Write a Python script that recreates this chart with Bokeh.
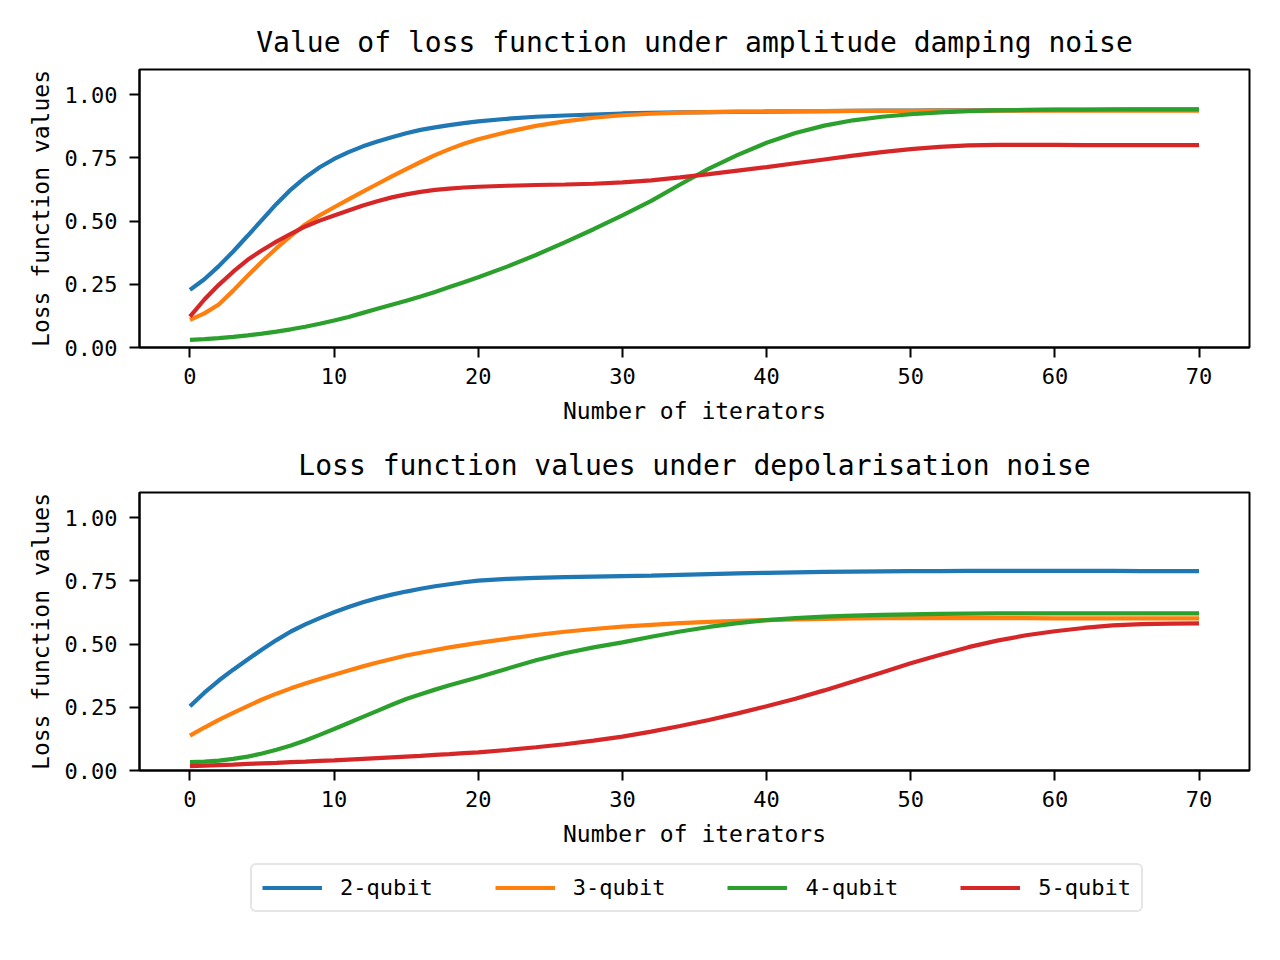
from bokeh.plotting import figure
from bokeh.layouts import column
from bokeh.models import FixedTicker, PrintfTickFormatter, Legend, LegendItem, Range1d
from bokeh.embed import file_html
from bokeh.resources import INLINE

# ---------------- data ----------------
iterations = [0, 1, 2, 3, 4, 5, 6, 7, 8, 9, 10, 11, 12, 13, 14, 15, 16, 17, 18, 19, 20,
              22, 24, 26, 28, 30, 32, 34, 36, 38, 40, 42, 44, 46, 48, 50, 52, 54, 56,
              58, 60, 62, 64, 66, 68, 70]

series_labels = ["2-qubit", "3-qubit", "4-qubit", "5-qubit"]
series_colors = ["#1f77b4", "#ff7f0e", "#2ca02c", "#d62728"]

# amplitude damping noise
amp_2q = [0.228, 0.270, 0.322, 0.380, 0.442, 0.505, 0.568, 0.625, 0.673, 0.713, 0.746,
          0.773, 0.796, 0.815, 0.832, 0.848, 0.861, 0.871, 0.880, 0.888, 0.895,
          0.905, 0.913, 0.918, 0.922, 0.926, 0.928, 0.930, 0.931, 0.932, 0.933, 0.934,
          0.935, 0.936, 0.937, 0.937, 0.938, 0.938, 0.939, 0.939, 0.940, 0.940, 0.940,
          0.941, 0.941, 0.941]
amp_3q = [0.109, 0.135, 0.170, 0.225, 0.284, 0.340, 0.393, 0.442, 0.487, 0.523, 0.555,
          0.586, 0.617, 0.647, 0.677, 0.706, 0.734, 0.761, 0.785, 0.806, 0.824,
          0.853, 0.877, 0.895, 0.909, 0.919, 0.925, 0.929, 0.931, 0.933, 0.934, 0.935,
          0.935, 0.936, 0.936, 0.936, 0.937, 0.937, 0.937, 0.937, 0.937, 0.937, 0.937,
          0.937, 0.937, 0.937]
amp_4q = [0.030, 0.033, 0.037, 0.042, 0.048, 0.055, 0.063, 0.072, 0.082, 0.094, 0.107,
          0.121, 0.137, 0.153, 0.169, 0.185, 0.202, 0.220, 0.239, 0.258, 0.278,
          0.320, 0.366, 0.416, 0.468, 0.523, 0.580, 0.645, 0.708, 0.762, 0.810, 0.849,
          0.878, 0.899, 0.913, 0.923, 0.930, 0.935, 0.938, 0.940, 0.941, 0.941, 0.942,
          0.942, 0.942, 0.942]
amp_5q = [0.122, 0.190, 0.248, 0.300, 0.347, 0.385, 0.419, 0.450, 0.479, 0.502, 0.522,
          0.542, 0.562, 0.579, 0.594, 0.606, 0.616, 0.624, 0.629, 0.633, 0.636,
          0.640, 0.643, 0.645, 0.648, 0.653, 0.661, 0.673, 0.686, 0.700, 0.714, 0.729,
          0.744, 0.759, 0.773, 0.785, 0.794, 0.800, 0.802, 0.802, 0.802, 0.801, 0.801,
          0.801, 0.801, 0.801]

# depolarisation noise
dep_2q = [0.254, 0.308, 0.356, 0.399, 0.439, 0.479, 0.516, 0.550, 0.578, 0.603, 0.626,
          0.647, 0.666, 0.682, 0.696, 0.708, 0.719, 0.729, 0.737, 0.745, 0.751,
          0.758, 0.762, 0.765, 0.767, 0.769, 0.771, 0.774, 0.777, 0.780, 0.782, 0.784,
          0.786, 0.787, 0.788, 0.789, 0.789, 0.790, 0.790, 0.790, 0.790, 0.790, 0.790,
          0.789, 0.789, 0.789]
dep_3q = [0.138, 0.170, 0.200, 0.228, 0.255, 0.281, 0.304, 0.325, 0.344, 0.362, 0.379,
          0.396, 0.412, 0.427, 0.441, 0.455, 0.466, 0.477, 0.487, 0.496, 0.505,
          0.521, 0.536, 0.549, 0.560, 0.569, 0.576, 0.583, 0.588, 0.592, 0.595, 0.598,
          0.600, 0.602, 0.603, 0.603, 0.603, 0.603, 0.603, 0.603, 0.602, 0.602, 0.602,
          0.602, 0.602, 0.602]
dep_4q = [0.033, 0.035, 0.039, 0.046, 0.055, 0.067, 0.082, 0.099, 0.119, 0.141, 0.164,
          0.188, 0.212, 0.236, 0.260, 0.283, 0.302, 0.320, 0.337, 0.353, 0.369,
          0.403, 0.436, 0.464, 0.487, 0.507, 0.529, 0.550, 0.568, 0.583, 0.595, 0.603,
          0.609, 0.613, 0.616, 0.618, 0.620, 0.621, 0.622, 0.622, 0.622, 0.622, 0.622,
          0.622, 0.622, 0.622]
dep_5q = [0.017, 0.019, 0.021, 0.023, 0.026, 0.028, 0.030, 0.033, 0.035, 0.038, 0.040,
          0.043, 0.046, 0.049, 0.052, 0.055, 0.058, 0.062, 0.065, 0.069, 0.072,
          0.081, 0.092, 0.104, 0.118, 0.134, 0.154, 0.176, 0.200, 0.226, 0.254, 0.284,
          0.317, 0.352, 0.388, 0.424, 0.457, 0.488, 0.514, 0.535, 0.551, 0.564, 0.574,
          0.579, 0.581, 0.582]

x_ticks = [0, 10, 20, 30, 40, 50, 60, 70]
y_ticks = [0.0, 0.25, 0.5, 0.75, 1.0]

titles = ["Value of loss function under amplitude damping noise",
          "Loss function values under depolarisation noise"]
x_label = "Number of iterators"
y_label = "Loss function values"

FONT = "DejaVu Sans Mono"


def make_fig(title, border_top, border_bottom):
    p = figure(frame_width=1110, frame_height=278,
               min_border_left=139, min_border_right=23,
               min_border_top=border_top, min_border_bottom=border_bottom,
               x_range=Range1d(-3.5, 73.5), y_range=Range1d(0, 1.1),
               output_backend="svg", toolbar_location=None, title=title)
    p.title.text_font = FONT
    p.title.text_font_size = "28px"
    p.title.text_font_style = "normal"
    p.title.text_color = "black"
    p.title.align = "center"
    p.title.standoff = 21
    p.xgrid.visible = False
    p.ygrid.visible = False
    p.outline_line_color = "black"
    p.outline_line_width = 2
    p.outline_line_alpha = 1
    p.xaxis.ticker = FixedTicker(ticks=x_ticks)
    p.yaxis.ticker = FixedTicker(ticks=y_ticks)
    p.yaxis.formatter = PrintfTickFormatter(format="%.2f")
    p.xaxis.axis_label = x_label
    p.yaxis.axis_label = y_label
    for ax in (p.xaxis, p.yaxis):
        ax.axis_line_width = 2
        ax.axis_line_color = "black"
        ax.major_tick_line_width = 2
        ax.major_tick_line_color = "black"
        ax.major_tick_out = 10
        ax.major_tick_in = 0
        ax.minor_tick_line_color = None
        ax.major_label_text_font = FONT
        ax.major_label_text_font_size = "22px"
        ax.major_label_text_color = "black"
        ax.axis_label_text_font = FONT
        ax.axis_label_text_font_size = "23px"
        ax.axis_label_text_font_style = "normal"
        ax.axis_label_text_color = "black"
    p.xaxis.major_label_standoff = 10
    p.yaxis.major_label_standoff = 12
    p.xaxis.axis_label_standoff = 11
    p.yaxis.axis_label_standoff = 8
    return p


top = make_fig(titles[0], 69, 89)
bottom = make_fig(titles[1], 56, 88)

amp_series = [amp_2q, amp_3q, amp_4q, amp_5q]
dep_series = [dep_2q, dep_3q, dep_4q, dep_5q]

for i in range(4):
    top.line(iterations, amp_series[i], line_color=series_colors[i], line_width=4.2)
    bottom.line(iterations, dep_series[i], line_color=series_colors[i], line_width=4.2)

# separate strip that only carries the shared legend (its data range is empty,
# so only the legend is visible)
leg_fig = figure(frame_width=1272, frame_height=94, min_border=0,
                 x_axis_type=None, y_axis_type=None,
                 x_range=Range1d(1000, 1001), y_range=Range1d(1000, 1001),
                 output_backend="svg", toolbar_location=None)
leg_fig.outline_line_color = None
items = []
for i in range(4):
    r = leg_fig.line(iterations, dep_series[i], line_color=series_colors[i], line_width=4.2)
    items.append(LegendItem(label=series_labels[i], renderers=[r]))

legend = Legend(items=items, orientation="horizontal", location=(250, 40))
legend.label_text_font = FONT
legend.label_text_font_size = "22px"
legend.label_text_color = "black"
legend.glyph_width = 60
legend.glyph_height = 25
legend.label_height = 25
legend.label_standoff = 18
legend.spacing = 62
legend.padding = 10
legend.margin = 0
legend.border_line_color = "#cccccc"
legend.border_line_width = 2
legend.background_fill_alpha = 1
if "border_radius" in Legend.properties():
    legend.border_radius = 6
leg_fig.add_layout(legend, "center")

layout = column(top, bottom, leg_fig, spacing=0)

open("out.html", "w").write(file_html(layout, INLINE))
